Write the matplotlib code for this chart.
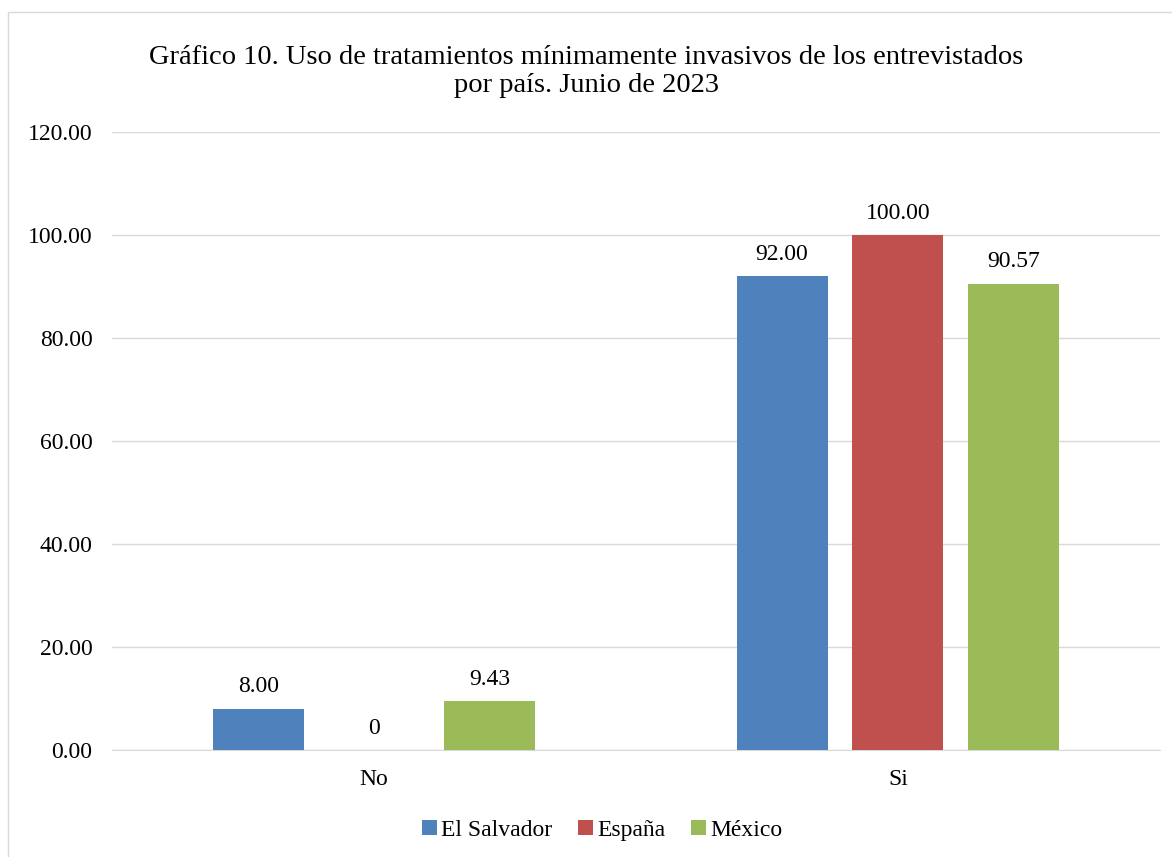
import numpy as np
import matplotlib.pyplot as plt
from matplotlib.patches import Rectangle

plt.rcParams["font.family"] = ["Liberation Serif", "DejaVu Serif"]

categories = ["No", "Si"]
countries = ["El Salvador", "España", "México"]
el_salvador = [8.00, 92.00]
espana = [0, 100.00]
mexico = [9.43, 90.57]
labels = [["8.00", "92.00"], ["0", "100.00"], ["9.43", "90.57"]]
colors = ["#4F81BD", "#C0504D", "#9BBB59"]

fig = plt.figure(figsize=(11.72, 8.57), dpi=100)
ax = fig.add_axes([0.0956, 0.1249, 0.894, 0.721])

x = np.arange(len(categories))
width = 0.174
offsets = [-0.221, 0, 0.221]

for i, (vals, name) in enumerate(zip([el_salvador, espana, mexico], countries)):
    bars = ax.bar(x + offsets[i], vals, width, color=colors[i], label=name, zorder=3)
    for b, lab in zip(bars, labels[i]):
        ax.text(b.get_x() + b.get_width() / 2, b.get_height() + 2.2, lab,
                ha="center", va="bottom", fontsize=17)

ax.set_xlim(-0.5, 1.5)
ax.set_ylim(0, 120)
ax.set_yticks(np.arange(0, 121, 20))
ax.set_yticklabels([f"{v:.2f}" for v in np.arange(0, 121, 20)], fontsize=17)
ax.set_xticks(x)
ax.set_xticklabels(categories, fontsize=17)
ax.tick_params(axis="y", length=0, pad=14)
ax.tick_params(axis="x", length=0, pad=14)
ax.grid(axis="y", color="#D9D9D9", linewidth=1, zorder=0)
for s in ["top", "right", "left"]:
    ax.spines[s].set_visible(False)
ax.spines["bottom"].set_color("#D9D9D9")

fig.text(0.5, 0.917, "Gráfico 10. Uso de tratamientos mínimamente invasivos de los entrevistados\npor país. Junio de 2023",
         ha="center", va="center", fontsize=20.5, linespacing=1.15)

fig.legend(loc="center", bbox_to_anchor=(0.514, 0.031), ncol=3, frameon=False,
           fontsize=17, handlelength=0.6, handleheight=0.6, handletextpad=0.2,
           columnspacing=1.1)

fig.patches.append(Rectangle((0.007, -0.01), 0.995, 0.996, transform=fig.transFigure,
                             fill=False, edgecolor="#D9D9D9", linewidth=1))

plt.savefig("out.png", dpi=100)
